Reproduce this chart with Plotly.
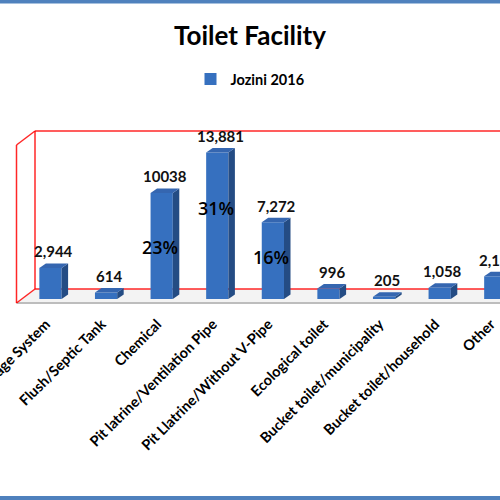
import plotly.graph_objects as go

categories = ["Flush toilet connected to sewerage System", "Flush/Septic Tank", "Chemical",
              "Pit latrine/Ventilation Pipe", "Pit Llatrine/Without V-Pipe", "Ecological toilet",
              "Bucket toilet/municipality", "Bucket toilet/household", "Other"]
households = [2944, 614, 10038, 13881, 7272, 996, 205, 1058, 2150]
value_labels = ["2,944", "614", "10038", "13,881", "7,272", "996", "205", "1,058", "2,150"]
pct_labels = {2: "23%", 3: "31%", 4: "16%"}

# pixel geometry of the plot area
T, B = 130, 305          # plot area top / bottom in px
Y_TOP = 16000
S = 94.67                # data units per px
Y_BOT = Y_TOP - (B - T) * S
X0, DX = -0.908, 55.6    # x at left edge, px per category


def px2x(p):
    return X0 + p / DX


def px2y(p):
    return Y_TOP - (p - T) * S


def py_paper(p):
    return (B - p) / (B - T)


x = list(range(len(categories)))
w = 0.4
ddx = 6.5 / DX
ddy = 4.5 * S

fig = go.Figure()
fig.add_trace(go.Bar(x=x, y=households, width=w, name="Jozini 2016", hoverinfo="skip",
                     marker=dict(color="#3670bf", line=dict(width=0))))

shapes = []
red = dict(color="rgba(255,0,0,0.85)", width=1.5)

# floor
shapes.append(dict(type="path", xref="x", yref="y", layer="below",
                   path=f"M{px2x(16.5)},{px2y(303)} L{px2x(505)},{px2y(303)} L{px2x(505)},{px2y(289)} L{px2x(35)},{px2y(289)} Z",
                   fillcolor="#f3f3f3", line=dict(width=0)))
shapes.append(dict(type="line", xref="x", yref="y", layer="below",
                   x0=px2x(16.5), x1=px2x(505), y0=px2y(303), y1=px2y(303),
                   line=dict(color="#bdbdbd", width=2)))
# red frame
for (a, b, c, d) in [(35, 131, 505, 131), (35, 131, 35, 289), (35, 289, 505, 289),
                     (35, 131, 16.5, 145), (16.5, 145, 16.5, 303), (16.5, 303, 35, 289)]:
    shapes.append(dict(type="line", xref="x", yref="y", layer="below",
                       x0=px2x(a), y0=px2y(b), x1=px2x(c), y1=px2y(d), line=red))

# 3d faces of the bars
for xi, v in zip(x, households):
    r = xi + w / 2
    l = xi - w / 2
    shapes.append(dict(type="path", xref="x", yref="y", layer="above",
                       path=f"M{r},0 L{r + ddx},{ddy} L{r + ddx},{v + ddy} L{r},{v} Z",
                       fillcolor="#244c84", line=dict(width=0)))
    shapes.append(dict(type="path", xref="x", yref="y", layer="above",
                       path=f"M{l},{v} L{r},{v} L{r + ddx},{v + ddy} L{l + ddx},{v + ddy} Z",
                       fillcolor="#3566b0", line=dict(width=0)))

# blue border strips top and bottom
shapes.append(dict(type="rect", xref="paper", yref="paper", x0=0, x1=1,
                   y0=py_paper(3.5), y1=py_paper(-1), fillcolor="#4f81bd", line=dict(width=0)))
shapes.append(dict(type="rect", xref="paper", yref="paper", x0=0, x1=1,
                   y0=py_paper(501), y1=py_paper(496), fillcolor="#4f81bd", line=dict(width=0)))

annotations = []
for xi, v, t in zip(x, households, value_labels):
    annotations.append(dict(x=xi + ddx / 2, y=v + ddy, text=t, showarrow=False,
                            yanchor="bottom", yshift=1,
                            font=dict(family="Lato", size=15, color="#111111", weight="bold")))
pct_frac = {2: 0.49, 3: 0.62, 4: 0.547}
for i, t in pct_labels.items():
    annotations.append(dict(x=i - 0.03, y=households[i] * pct_frac[i], text=t, showarrow=False,
                            font=dict(family="Open Sans", size=18, color="#000000", weight=600)))

fig.update_layout(
    width=500, height=500,
    margin=dict(l=0, r=0, t=T, b=500 - B),
    template="none",
    paper_bgcolor="white", plot_bgcolor="rgba(0,0,0,0)",
    title=dict(text="<b>Toilet Facility</b>", x=0.5, xanchor="center", y=1 - 36 / 500, yanchor="middle",
               font=dict(family="Lato", size=26, color="black")),
    showlegend=True,
    legend=dict(orientation="h", x=0.5, xanchor="center", y=py_paper(79), yanchor="middle",
                font=dict(family="Lato", size=14.5, color="black", weight="bold")),
    xaxis=dict(range=[X0, X0 + 500 / DX], tickvals=[xi - 0.08 for xi in x], ticktext=categories,
               tickangle=-45, showgrid=False, zeroline=False, showline=False, ticks="",
               automargin=False, ticklabelstandoff=7, ticklabeloverflow="allow",
               tickfont=dict(family="Lato", size=14.5, color="black", weight="bold")),
    yaxis=dict(range=[Y_BOT, Y_TOP], visible=False, automargin=False),
    shapes=shapes, annotations=annotations,
)

fig.write_html("out.html", config={"displayModeBar": False},
               post_script="document.body.style.margin='0';")
